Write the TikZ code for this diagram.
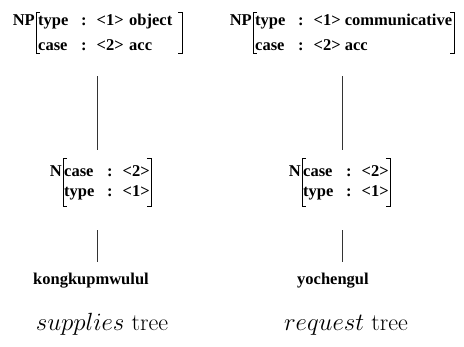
\documentclass[tikz,border=0pt]{standalone}
\usepackage{fontspec}
\newfontfamily\avmfont{Liberation Serif}
\usetikzlibrary{fit}
\newcommand{\feat}[2]{\makebox[43pt][l]{#1}:\hspace{10pt}#2}

\begin{document}
\begin{tikzpicture}[x=1pt,y=-1pt,
    avm/.style={font=\avmfont\bfseries\fontsize{16.5}{25}\selectfont, align=left, anchor=north west, inner xsep=2pt},
    cat/.style={font=\avmfont\bfseries\fontsize{16.5}{20}\selectfont, anchor=north east, inner sep=0pt},
    word/.style={font=\avmfont\bfseries\fontsize{16.5}{20}\selectfont, anchor=base, inner sep=0pt},
    caption/.style={font=\fontsize{24}{28}\selectfont, anchor=base},
    tree/.style={inner sep=0pt},
    branch/.style={draw=black!80, line width=0.7pt}]
    \useasboundingbox (0,0) rectangle (464,347);
    % Estruturas NP
    \node[avm, inner ysep=2pt, text width=142pt] (np1) at (36,12)
        {\feat{type}{<1> object}\\ \feat{case}{<2> acc}};
    \node[avm, inner ysep=2pt] (np2) at (253,12)
        {\feat{type}{<1> communicative}\\ \feat{case}{<2> acc}};
    \node[cat] (np1lab) at ([xshift=-1pt,yshift=-2pt]np1.north west) {NP};
    \node[cat] (np2lab) at ([xshift=-1pt,yshift=-2pt]np2.north west) {NP};
    % Estruturas N
    \node[avm, font=\avmfont\bfseries\fontsize{16.5}{20}\selectfont, inner xsep=1pt, inner ysep=7pt] (n1) at (63,158)
        {\feat{case}{<2>}\\ \feat{type}{<1>}};
    \node[avm, font=\avmfont\bfseries\fontsize{16.5}{20}\selectfont, inner xsep=1pt, inner ysep=7pt] (n2) at (302,158)
        {\feat{case}{<2>}\\ \feat{type}{<1>}};
    \node[cat] (n1lab) at ([xshift=-1pt,yshift=-7pt]n1.north west) {N};
    \node[cat] (n2lab) at ([xshift=-1pt,yshift=-7pt]n2.north west) {N};
    % Colchetes
    \foreach \n in {np1,np2,n1,n2} {
        \draw[line width=0.8pt] (\n.north west) ++(4,0) -- (\n.north west) -- (\n.south west) -- ++(4,0);
        \draw[line width=0.8pt] (\n.north east) ++(-4,0) -- (\n.north east) -- (\n.south east) -- ++(-4,0);
    }
    % Palavras e legendas
    \node[word] (w1) at (91,285) {kongkupmwulul};
    \node[word] (w2) at (333,285) {yochengul};
    \node[caption] (c1) at (102,331) {$supplies$ tree};
    \node[caption] (c2) at (346,331) {$request$ tree};
    % Nos da arvore
    \node[tree, fit=(np1lab)(np1)] (t1) {};
    \node[tree, fit=(n1lab)(n1)] (t2) {};
    \node[tree, fit=(np2lab)(np2)] (t3) {};
    \node[tree, fit=(n2lab)(n2)] (t4) {};
    % Ramos
    \foreach \a/\b/\w in {t1/t2/w1, t3/t4/w2} {
        \draw[branch, shorten <=23pt, shorten >=8pt] (\a.south) -- (\a.south |- \b.north);
        \draw[branch, shorten <=23pt, shorten >=11pt] (\a.south |- \b.south) -- (\a.south |- \w.north);
    }
\end{tikzpicture}
\end{document}
